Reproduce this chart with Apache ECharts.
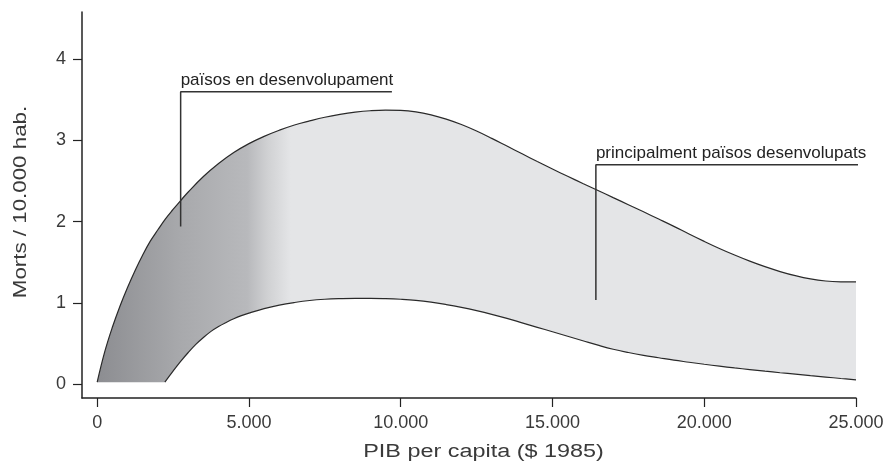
<!DOCTYPE html>
<html><head><meta charset="utf-8">
<script src="https://cdn.jsdelivr.net/npm/echarts@6/dist/echarts.min.js"></script>
<style>html,body{margin:0;padding:0;background:#fff}#c{width:887px;height:464px}</style>
</head><body><div id="c"></div>
<script>
// ---- data ----
const upperX = [0, 250, 500, 750, 1000, 1250, 1500, 1750, 2000, 2250, 2500, 2750, 3000, 3500, 4000, 4500, 5000, 5500, 6000, 6500, 7000, 7500, 8000, 8500, 9000, 9500, 10000, 10500, 11000, 11500, 12000, 12500, 13000, 13500, 14000, 14500, 15000, 15500, 16000, 16500, 17000, 17500, 18000, 18500, 19000, 19500, 20000, 20500, 21000, 21500, 22000, 22500, 23000, 23500, 24000, 24500, 25000];
const upperY = [0.025, 0.40, 0.70, 0.96, 1.19, 1.40, 1.59, 1.76, 1.90, 2.035, 2.15, 2.26, 2.365, 2.555, 2.715, 2.85, 2.96, 3.05, 3.125, 3.19, 3.24, 3.285, 3.32, 3.347, 3.365, 3.373, 3.37, 3.352, 3.315, 3.262, 3.195, 3.115, 3.025, 2.93, 2.835, 2.74, 2.648, 2.558, 2.47, 2.383, 2.296, 2.209, 2.121, 2.032, 1.942, 1.848, 1.757, 1.67, 1.589, 1.514, 1.446, 1.386, 1.335, 1.295, 1.27, 1.26, 1.258];
const lowerX = [2230, 2500, 2750, 3000, 3250, 3500, 3750, 4000, 4250, 4500, 4750, 5000, 5500, 6000, 6500, 7000, 7500, 8000, 8500, 9000, 9500, 10000, 10500, 11000, 11500, 12000, 12500, 13000, 13500, 14000, 14500, 15000, 15500, 16000, 16500, 17000, 17500, 18000, 18500, 19000, 19500, 20000, 20500, 21000, 21500, 22000, 22500, 23000, 23500, 24000, 24500, 25000];
const lowerY = [0.025, 0.16, 0.28, 0.39, 0.49, 0.575, 0.65, 0.71, 0.76, 0.805, 0.843, 0.875, 0.93, 0.973, 1.005, 1.03, 1.045, 1.053, 1.057, 1.057, 1.053, 1.045, 1.032, 1.01, 0.98, 0.945, 0.905, 0.86, 0.81, 0.755, 0.70, 0.645, 0.59, 0.535, 0.48, 0.43, 0.39, 0.355, 0.325, 0.295, 0.27, 0.245, 0.222, 0.20, 0.18, 0.16, 0.141, 0.123, 0.105, 0.088, 0.07, 0.053];
const baseline = 0.025;
const xTicks = [0, 5000, 10000, 15000, 20000, 25000];
const xTickLabels = ['0', '5.000', '10.000', '15.000', '20.000', '25.000'];
const yTicks = [0, 1, 2, 3, 4];
const yTickLabels = ['0', '1', '2', '3', '4'];
const ann1X = [2750, 2750, 9710];
const ann1Y = [1.94, 3.60, 3.60];
const ann1Text = 'països en desenvolupament';
const ann2X = [16430, 16430, 25296];
const ann2Y = [1.036, 2.70, 2.70];
const ann2Text = 'principalment països desenvolupats';
const xTitle = 'PIB per capita ($ 1985)';
const yTitle = 'Morts / 10.000 hab.';

// ---- chart ----
const FONT = '"Liberation Sans", Arial, Helvetica, sans-serif';
const TXT = '#3a3a3a';
const pair = (xs, ys) => xs.map((x, i) => [x, ys[i]]);
const chart = echarts.init(document.getElementById('c'), null, {renderer: 'canvas'});

const grad = {
  type: 'linear', x: 0, y: 0, x2: 1, y2: 0,
  colorStops: [
    {offset: 0, color: '#8c8d91'},
    {offset: 0.11, color: '#a8a9ac'},
    {offset: 0.198, color: '#b8b9bc'},
    {offset: 0.225, color: '#d0d1d3'},
    {offset: 0.255, color: '#e4e5e7'},
    {offset: 1, color: '#e4e5e7'}
  ]
};

const axisCommon = {
  type: 'value',
  splitLine: {show: false},
  axisLine: {show: true, onZero: false, lineStyle: {color: '#222', width: 1.5}},
};

chart.setOption({
  animation: false,
  grid: {left: 82, right: 31, top: 12, bottom: 66},
  xAxis: Object.assign({}, axisCommon, {
    min: -500, max: 25000,
    axisTick: {show: true, customValues: xTicks, length: 9, lineStyle: {color: '#222', width: 1.2}},
    axisLabel: {customValues: xTicks, formatter: v => xTickLabels[xTicks.indexOf(v)], fontSize: 18, color: TXT, margin: 16, fontFamily: FONT}
  }),
  yAxis: Object.assign({}, axisCommon, {
    min: -0.17, max: 4.58,
    axisTick: {show: true, customValues: yTicks, length: 9, lineStyle: {color: '#222', width: 1.2}},
    axisLabel: {customValues: yTicks, formatter: v => yTickLabels[yTicks.indexOf(v)], fontSize: 18, color: TXT, margin: 16, fontFamily: FONT}
  }),
  series: [
    {type: 'line', data: pair(upperX, upperY), smooth: 0.4, symbol: 'none', z: 2,
     lineStyle: {color: '#2a2a2a', width: 1.2},
     areaStyle: {origin: baseline, color: grad, opacity: 1}},
    {type: 'line', data: pair(lowerX, lowerY), smooth: 0.4, symbol: 'none', z: 3,
     lineStyle: {color: '#2a2a2a', width: 1.2},
     areaStyle: {origin: baseline - 0.02, color: '#ffffff', opacity: 1}},
    {type: 'line', data: pair(ann1X, ann1Y), symbol: 'none', z: 4, clip: false,
     lineStyle: {color: '#333', width: 1.5}},
    {type: 'line', data: pair(ann2X, ann2Y), symbol: 'none', z: 4, clip: false,
     lineStyle: {color: '#333', width: 1.5}}
  ]
});

const c1 = chart.convertToPixel({gridIndex: 0}, [ann1X[1], ann1Y[1]]);
const c2 = chart.convertToPixel({gridIndex: 0}, [ann2X[1], ann2Y[1]]);
chart.setOption({
  graphic: [
    {type: 'text', x: c1[0], y: c1[1] - 3, style: {text: ann1Text, fontSize: 17, fontFamily: FONT, fill: '#222', align: 'left', verticalAlign: 'bottom'}},
    {type: 'text', x: c2[0], y: c2[1] - 3, style: {text: ann2Text, fontSize: 17, fontFamily: FONT, fill: '#222', align: 'left', verticalAlign: 'bottom'}},
    {type: 'text', x: 483.5, y: 452, scaleX: 1.3, style: {text: xTitle, fontSize: 18, fontFamily: FONT, fill: TXT, align: 'center', verticalAlign: 'middle'}},
    {type: 'text', x: 21.5, y: 202, rotation: Math.PI / 2, scaleX: 1.24, style: {text: yTitle, fontSize: 18, fontFamily: FONT, fill: TXT, align: 'center', verticalAlign: 'middle'}}
  ]
});
</script>
</body></html>
